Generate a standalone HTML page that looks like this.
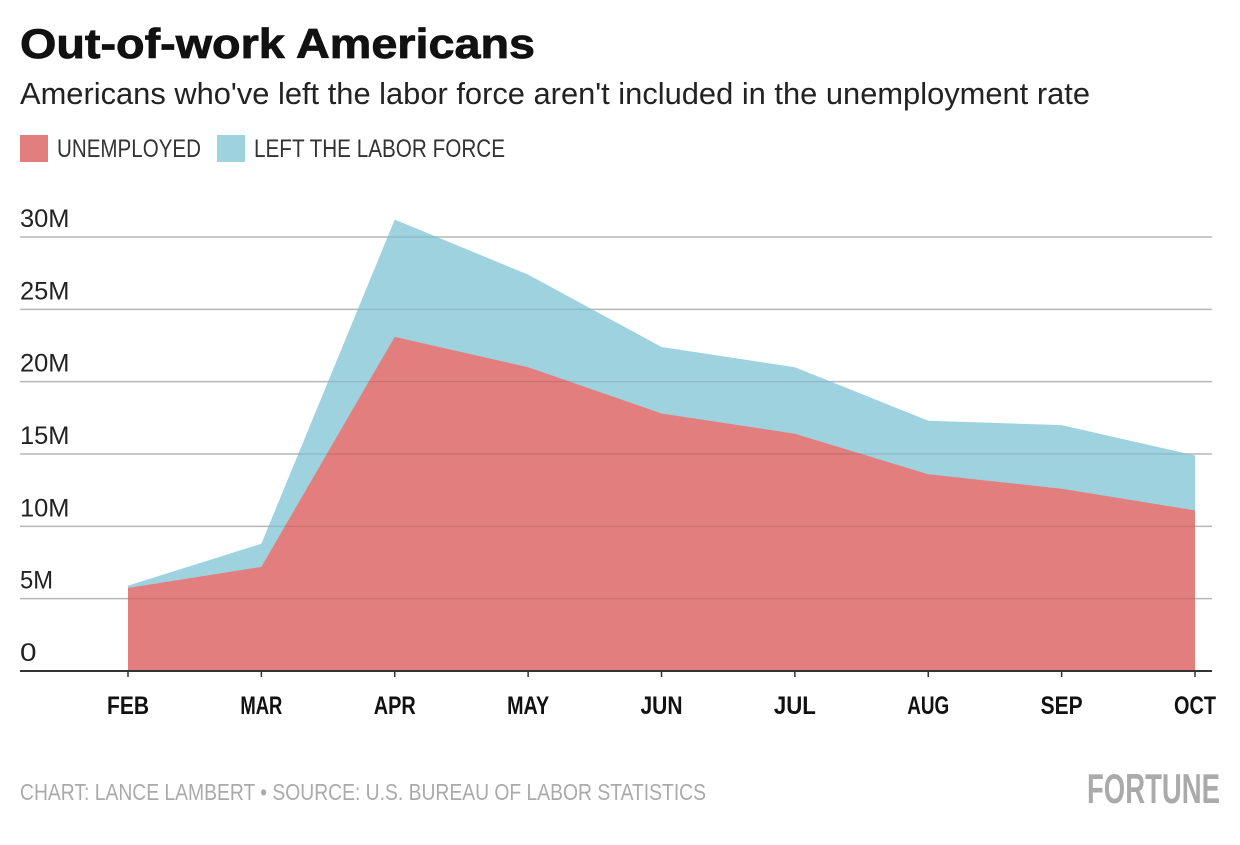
<!DOCTYPE html>
<html><head><meta charset="utf-8"><style>
body{margin:0;width:1240px;height:840px;background:#fff;font-family:"Liberation Sans",sans-serif;overflow:hidden}
</style></head><body>
<svg width="1240" height="840">
<text x="20" y="58" font-size="42" font-weight="bold" textLength="515" lengthAdjust="spacingAndGlyphs" fill="#111" stroke="#111" stroke-width="0.8">Out-of-work Americans</text>
<text x="20" y="104" font-size="31" fill="#222" textLength="1070" lengthAdjust="spacingAndGlyphs">Americans who've left the labor force aren't included in the unemployment rate</text>
<rect x="20" y="135" width="28" height="27" fill="#e27f7e"/>
<text x="57" y="157" font-size="25" fill="#333" textLength="144" lengthAdjust="spacingAndGlyphs">UNEMPLOYED</text>
<rect x="217" y="135" width="28" height="27" fill="#9fd2df"/>
<text x="254" y="157" font-size="25" fill="#333" textLength="251" lengthAdjust="spacingAndGlyphs">LEFT THE LABOR FORCE</text>
<g id="plot"></g>
<text x="20" y="800" font-size="23" fill="#aaa" textLength="686" lengthAdjust="spacingAndGlyphs">CHART: LANCE LAMBERT • SOURCE: U.S. BUREAU OF LABOR STATISTICS</text>
<text x="1087" y="803" font-size="42" font-weight="bold" fill="#aaa" textLength="133" lengthAdjust="spacingAndGlyphs">FORTUNE</text>
</svg>
<script>
const months=["FEB","MAR","APR","MAY","JUN","JUL","AUG","SEP","OCT"];
const unemployed=[5.74,7.2,23.1,21.0,17.8,16.4,13.6,12.6,11.1];
const leftLabor=[0.16,1.6,8.1,6.4,4.6,4.6,3.7,4.4,3.8];
const yTicks=[0,5,10,15,20,25,30];
const yTickLabels=["0","5M","10M","15M","20M","25M","30M"];
const NS="http://www.w3.org/2000/svg";
const g=document.getElementById('plot');
const x0=128,x1=1195,yBase=671,yTop30=237;
const xs=i=>x0+(x1-x0)*i/(months.length-1);
const ys=v=>yBase-(yBase-yTop30)*v/30;
function mk(t,a){const e=document.createElementNS(NS,t);for(const k in a)e.setAttribute(k,a[k]);g.appendChild(e);return e;}
yTicks.forEach((t,i)=>{
 if(t>0){const l=mk('line',{x1:20,x2:1212,y1:ys(t),y2:ys(t),stroke:'#ccc','stroke-width':1.5});
 
 }
});
const total=unemployed.map((u,i)=>u+leftLabor[i]);
let pT=months.map((m,i)=>xs(i)+','+ys(total[i])).join(' ');
const aT=mk('polygon',{points:pT+' '+xs(8)+','+yBase+' '+xs(0)+','+yBase,fill:'#9fd2df'});


let pU=months.map((m,i)=>xs(i)+','+ys(unemployed[i])).join(' ');
const aU=mk('polygon',{points:pU+' '+xs(8)+','+yBase+' '+xs(0)+','+yBase,fill:'#e27f7e'});


yTicks.forEach((t,i)=>{
 if(t>0){const l=mk('line',{x1:20,x2:1212,y1:ys(t),y2:ys(t),stroke:'#000','stroke-opacity':0.1,'stroke-width':1.5});
 
 }
 const tx=mk('text',{x:20,y:ys(t)-10,'font-size':25,fill:'#222',textLength:yTickLabels[i].length*16.5,lengthAdjust:'spacingAndGlyphs'});tx.textContent=yTickLabels[i];
 
 
});
const ax=mk('line',{x1:20,x2:1212,y1:yBase,y2:yBase,stroke:'#333','stroke-width':2});


months.forEach((m,i)=>{
 const tk=mk('line',{x1:xs(i),x2:xs(i),y1:yBase,y2:yBase+6,stroke:'#333','stroke-width':1.5});
 
 
 const t=mk('text',{x:xs(i),y:714,'font-size':25,'font-weight':'bold',fill:'#111','text-anchor':'middle',textLength:42,lengthAdjust:'spacingAndGlyphs'});t.textContent=m;
 
 
});
</script>
</body></html>
